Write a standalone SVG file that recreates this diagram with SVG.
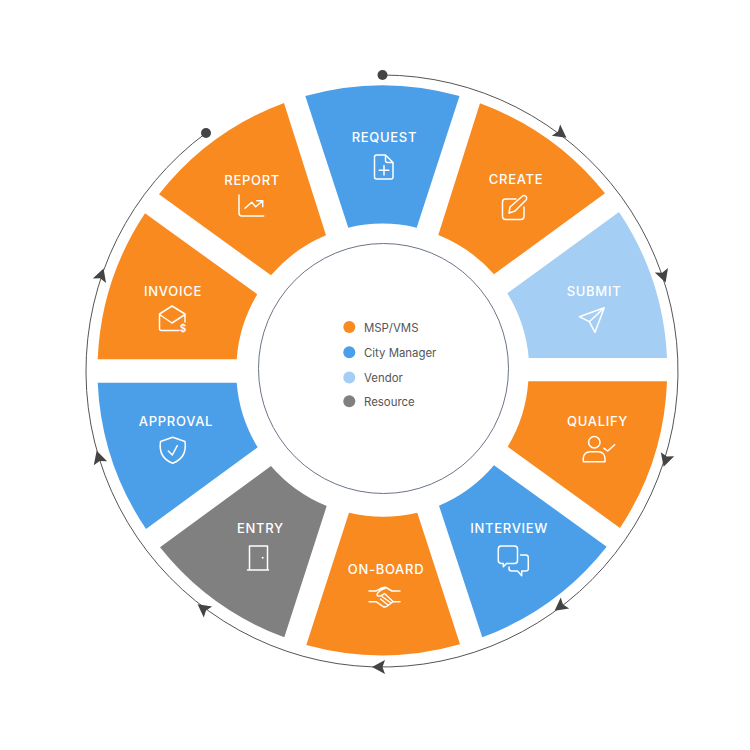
<svg xmlns="http://www.w3.org/2000/svg" width="750" height="750" viewBox="0 0 750 750">
<style>
.o{fill:#F88A20}.b{fill:#4B9FE8}.l{fill:#A4CEF4}.g{fill:#808080}
.t{font-family:Inter,"Liberation Sans",sans-serif;font-size:13px;font-weight:500;letter-spacing:.7px;fill:#fff;text-anchor:middle}
.k{font-family:Inter,"Liberation Sans",sans-serif;font-size:11.400px;fill:#555}
.i{fill:none;stroke:#fff;stroke-width:1.500;stroke-linecap:round;stroke-linejoin:round}
.c{fill:none;stroke:#555;stroke-width:1}
</style>
<defs><path id="a" d="M8 0L-5-7L-2.500 0L-5 7Z" fill="#444"/></defs>
<rect width="750" height="750" fill="#fff"/>
<g id="connectors">
<path class="c" d="M382 75A296 296 0 1 1 206 133"/>
<circle cx="382.500" cy="75" r="5" fill="#444"/>
<circle cx="206" cy="133" r="5" fill="#444"/>
<use href="#a" transform="translate(560 133) rotate(36.600)"/>
<use href="#a" transform="translate(663 275) rotate(71)"/>
<use href="#a" transform="translate(666 459) rotate(107.300)"/>
<use href="#a" transform="translate(561 606) rotate(142.900)"/>
<use href="#a" transform="translate(380 667) rotate(180)"/>
<use href="#a" transform="translate(204 609) rotate(217)"/>
<use href="#a" transform="translate(99 458.500) rotate(253)"/>
<use href="#a" transform="translate(101 276) rotate(288.600)"/>
</g>
<g id="request">
<path class="b" d="M305.300 96A285 285 0 0 1 459.500 96L416.700 227.700A146 146 0 0 0 348.300 227.700Z"/>
<text class="t" x="384.400" y="141.700">REQUEST</text>
<path class="i" d="M376.500 155H385.500L393 162.500V177A2 2 0 0 1 391 179H376.500A2 2 0 0 1 374.500 177V157A2 2 0 0 1 376.500 155ZM385.500 155V160.500A2 2 0 0 0 387.500 162.500H393M384 165.500V175M379.200 170.300H388.800"/>
</g>
<g id="create">
<path class="o" d="M480 103.300A285 285 0 0 1 605 193.300L494 274.300A146 146 0 0 0 438.300 235Z"/>
<text class="t" x="516" y="184">CREATE</text>
<path class="i" d="M516 199H505.500A3 3 0 0 0 502.500 202V216.500A3 3 0 0 0 505.500 219.500H521A3 3 0 0 0 524 216.500V207M509 213L510 207L522 196.500A2.500 2.500 0 0 1 526 200L515 211Z"/>
</g>
<g id="submit">
<path class="l" d="M619 212A285 285 0 0 1 667 358H528.700A146 146 0 0 0 507.300 293.300Z"/>
<text class="t" x="594" y="296">SUBMIT</text>
<path class="i" d="M604.300 307.700L579.300 316.700L589.300 321.700L595 332.300ZM604.300 307.700L589.300 321.700"/>
</g>
<g id="qualify">
<path class="o" d="M528.300 381.300H667A285 285 0 0 1 620 528L507.700 446.700A146 146 0 0 0 528.300 381.300Z"/>
<text class="t" x="597.500" y="426.300">QUALIFY</text>
<circle class="i" cx="594.300" cy="442.300" r="5.700"/>
<path class="i" d="M583.300 461.700V458A6.500 6.500 0 0 1 589.800 451.700H598.500A6.500 6.500 0 0 1 605 458V461.700ZM604 448.300L607.700 451L614.700 444.700"/>
</g>
<g id="interview">
<path class="b" d="M494 465.300L606.700 546.700A285 285 0 0 1 482.300 637.300L439 505.700A146 146 0 0 0 494 465.300Z"/>
<text class="t" x="509.200" y="533">INTERVIEW</text>
<path class="i" d="M501 546H514.500A3 3 0 0 1 517.500 549V560.500A3 3 0 0 1 514.500 563.500H506.500L503.300 566.700V563.500H501A3 3 0 0 1 498.300 560.500V549A3 3 0 0 1 501 546ZM520.500 555H526A2.500 2.500 0 0 1 528.300 557.500V569.500A2.500 2.500 0 0 1 526 571H521.700V575.700L517.500 571H511.500A2.500 2.500 0 0 1 509 569V567"/>
</g>
<g id="on-board">
<path class="o" d="M349 512.700A146 146 0 0 0 417.300 512.700L460 644.300A285 285 0 0 1 306.300 645Z"/>
<text class="t" x="386" y="574">ON-BOARD</text>
<path class="i" d="M369 591H376C380 589 383 586.500 386 587.500L392 591H400M369 601.700H376L383 606.500C385 607.500 387 606.500 388 605.500L393 601.700H400M388 605L380.500 599M391 603L382 596.500M393 601.500L384.500 593.500C381.500 596.500 377 597 377 594.500C377 592.500 382 589 385 588.500"/>
</g>
<g id="entry">
<path class="g" d="M271 466A146 146 0 0 0 326.700 506L284.300 637.300A285 285 0 0 1 160 547.300Z"/>
<text class="t" x="260.400" y="533.300">ENTRY</text>
<path class="i" d="M247.500 570H268.500M249.500 570V546H267.500V570"/>
<circle cx="262.700" cy="557.700" r="1" fill="#fff"/>
</g>
<g id="approval">
<path class="b" d="M97.700 382.700H236.700A146 146 0 0 0 257.700 447.300L146 529A285 285 0 0 1 97.700 382.700Z"/>
<text class="t" x="176" y="426">APPROVAL</text>
<path class="i" d="M172.700 437.300L160.500 441.500C159 452 163 459.500 172.700 463.300C182.500 459.500 186.500 452 185 441.500ZM168.300 451L172.300 455L177.300 445.700"/>
</g>
<g id="invoice">
<path class="o" d="M145 213.300L257.300 294.300A146 146 0 0 0 236.700 359.300H97.700A285 285 0 0 1 145 213.300Z"/>
<text class="t" x="173" y="296">INVOICE</text>
<path class="i" d="M179 330.500H161.500A2 2 0 0 1 159.500 328.500V314L172 306L185 314V322M159.500 314.500L172 323L185 314.500"/>
<text x="183" y="332" font-family="Inter,'Liberation Sans',sans-serif" font-size="10" font-weight="600" fill="#fff" text-anchor="middle">$</text>
</g>
<g id="report">
<path class="o" d="M284 103A285 285 0 0 0 159 194.300L271 275.300A146 146 0 0 1 326 235.300Z"/>
<text class="t" x="252.200" y="184.700">REPORT</text>
<path class="i" d="M239 195V213A3 3 0 0 0 242 216H263.700M245 208.300L251.700 202.300L255.700 206.700L262.700 200.700M256.700 200.700H262.700V206.700"/>
</g>
<g id="center">
<circle cx="383.500" cy="368.500" r="125" fill="#fff" stroke="#6B7488" stroke-width="1"/>
<circle class="o" cx="349.300" cy="327" r="6"/><text class="k" x="364" y="332">MSP/VMS</text>
<circle class="b" cx="349.300" cy="352.300" r="6"/><text class="k" x="364" y="356.500">City Manager</text>
<circle class="l" cx="349.300" cy="377.500" r="6"/><text class="k" x="364" y="381.500">Vendor</text>
<circle class="g" cx="349.300" cy="401.300" r="6"/><text class="k" x="364" y="405.500">Resource</text>
</g>
</svg>
